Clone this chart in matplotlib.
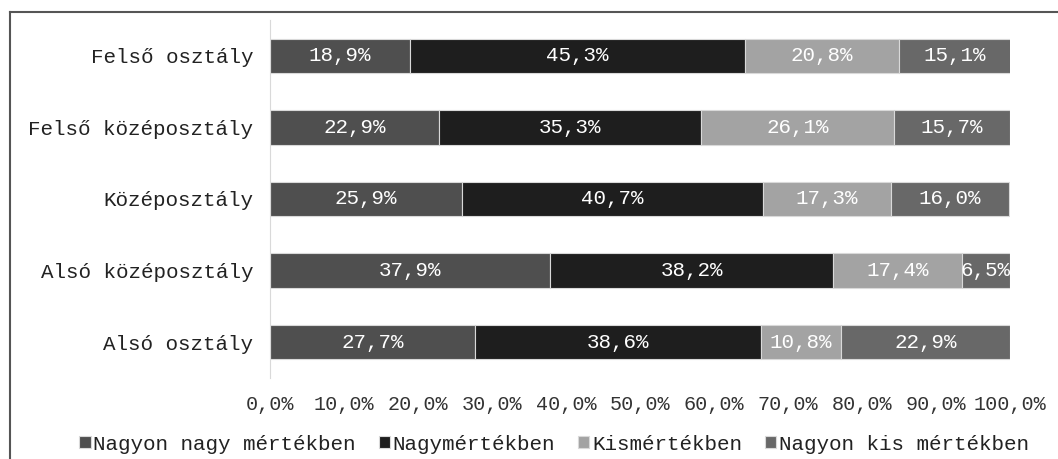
import matplotlib
matplotlib.use("Agg")
import matplotlib.pyplot as plt
from matplotlib.lines import Line2D
from matplotlib.ticker import FuncFormatter

plt.rcParams["font.family"] = ["Liberation Mono", "DejaVu Sans Mono"]

categories = ["Felső osztály", "Felső középosztály", "Középosztály",
              "Alsó középosztály", "Alsó osztály"]
series_names = ["Nagyon nagy mértékben", "Nagymértékben", "Kismértékben",
                "Nagyon kis mértékben"]
nagyon_nagy = [18.9, 22.9, 25.9, 37.9, 27.7]
nagy = [45.3, 35.3, 40.7, 38.2, 38.6]
kis = [20.8, 26.1, 17.3, 17.4, 10.8]
nagyon_kis = [15.1, 15.7, 16.0, 6.5, 22.9]
series_values = [nagyon_nagy, nagy, kis, nagyon_kis]
colors = ["#4f4f4f", "#1e1e1e", "#a3a3a3", "#686868"]


def fmt_pct(v):
    return f"{v:.1f}%".replace(".", ",")


fig = plt.figure(figsize=(10.58, 4.59), dpi=100)
ax = fig.add_axes([270 / 1058, 81 / 459, 740 / 1058, 358 / 459])

ypos = list(range(len(categories)))
left = [0.0] * len(categories)
for name, vals, col in zip(series_names, series_values, colors):
    bars = ax.barh(ypos, vals, left=left, height=0.48, color=col,
                   edgecolor="#d9d9d9", linewidth=0.8, label=name)
    ax.bar_label(bars, labels=[fmt_pct(v) for v in vals], label_type="center",
                 color="white", fontsize=15)
    left = [l + v for l, v in zip(left, vals)]

ax.set_xlim(0, 100)
ax.set_ylim(4.5, -0.5)
ax.set_yticks(ypos)
ax.set_yticklabels(categories, fontsize=15)
ax.set_xticks(range(0, 101, 10))
ax.xaxis.set_major_formatter(FuncFormatter(lambda x, p: fmt_pct(x)))
ax.tick_params(axis="x", length=0, pad=12, labelsize=14.5, colors="#333333")
ax.tick_params(axis="y", length=0, pad=12, colors="#222222")
for s in ["top", "right", "bottom"]:
    ax.spines[s].set_visible(False)
ax.spines["left"].set_color("#d9d9d9")

leg = fig.legend(loc="center", bbox_to_anchor=(554 / 1058, 1 - 444 / 459),
                 ncol=4, frameon=False, fontsize=15, handlelength=0.55,
                 handleheight=0.55, handletextpad=0.12, columnspacing=1.1,
                 borderaxespad=0)
for t in leg.get_texts():
    t.set_color("#222222")

# frame lines (top and left only visible in picture)
fig.add_artist(Line2D([10 / 1058, 10 / 1058], [0, 1 - 12 / 459],
                      transform=fig.transFigure, color="#555555", lw=1.5))
fig.add_artist(Line2D([10 / 1058, 1], [1 - 12 / 459, 1 - 12 / 459],
                      transform=fig.transFigure, color="#555555", lw=1.5))

fig.savefig("out.png", dpi=100)
